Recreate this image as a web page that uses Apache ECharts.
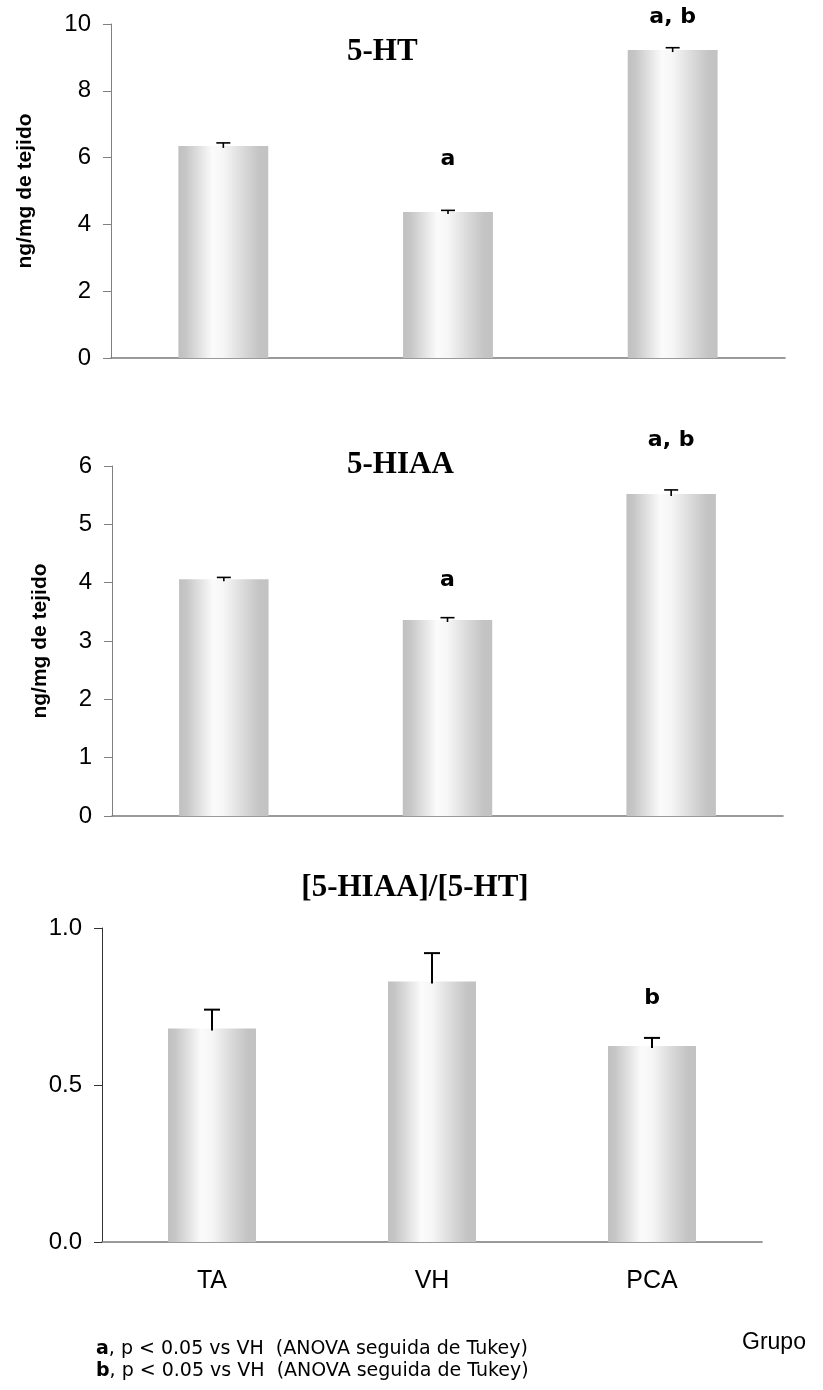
<!DOCTYPE html>
<html>
<head>
<meta charset="utf-8">
<script src="https://cdn.jsdelivr.net/npm/echarts@6/dist/echarts.min.js"></script>
<style>
  html, body { margin: 0; padding: 0; background: #fff; }
  #chart { width: 823px; height: 1390px; }
</style>
</head>
<body>
<div id="chart"></div>
<script>
// Groups on the x axis
const groups = ['TA', 'VH', 'PCA'];

// 5-HT (ng/mg de tejido): mean and upper error
const serotonin = [6.35, 4.37, 9.22];
const serotoninErr = [0.09, 0.05, 0.07];
const serotoninSig = ['', 'a', 'a, b'];

// 5-HIAA (ng/mg de tejido)
const hiaa = [4.06, 3.36, 5.52];
const hiaaErr = [0.03, 0.04, 0.07];
const hiaaSig = ['', 'a', 'a, b'];

// [5-HIAA]/[5-HT] ratio
const ratio = [0.68, 0.83, 0.624];
const ratioErr = [0.06, 0.09, 0.026];
const ratioSig = ['', '', 'b'];

// Axis ranges and tick steps
const serotoninAxis = { min: 0, max: 10, interval: 2 };
const hiaaAxis = { min: 0, max: 6, interval: 1 };
const ratioAxis = { min: 0, max: 1, interval: 0.5 };

const SANS = '"Liberation Sans", Arial, sans-serif';
const SERIF = '"Liberation Serif", "Times New Roman", serif';
const VERD = '"DejaVu Sans", Verdana, sans-serif';

const barFill = {
  type: 'linear', x: 0, y: 0, x2: 1, y2: 0,
  colorStops: [
    { offset: 0, color: '#c0c0c0' },
    { offset: 0.08, color: '#c6c6c6' },
    { offset: 0.38, color: '#fbfbfb' },
    { offset: 0.5, color: '#f6f6f6' },
    { offset: 0.75, color: '#d6d6d6' },
    { offset: 0.9, color: '#c4c4c4' },
    { offset: 1, color: '#c2c2c2' }
  ]
};

// Panel layout: plot boxes and per-label gap above the error cap (px)
const panels = [
  { grid: { left: 111, top: 24, width: 674, height: 334 }, axis: serotoninAxis,
    values: serotonin, errs: serotoninErr, sig: serotoninSig, gaps: [0, 51, 30],
    yName: 'ng/mg de tejido', nameGap: 75, capW: 14, lw: 1.6, yLine: '#808080', dec: 0 },
  { grid: { left: 112, top: 466, width: 671, height: 350 }, axis: hiaaAxis,
    values: hiaa, errs: hiaaErr, sig: hiaaSig, gaps: [0, 37, 50],
    yName: 'ng/mg de tejido', nameGap: 61, capW: 14, lw: 1.6, yLine: '#808080', dec: 0 },
  { grid: { left: 102, top: 928, width: 660, height: 314 }, axis: ratioAxis,
    values: ratio, errs: ratioErr, sig: ratioSig, gaps: [0, 0, 40],
    yName: '', nameGap: 0, capW: 16, lw: 2, yLine: '#333333', dec: 1, showCats: true }
];

function errorRenderer(p) {
  return function (params, api) {
    const i = api.value(0);
    const v = api.value(1);
    const base = api.coord([i, v]);
    const top = api.coord([i, v + p.errs[i]]);
    const stroke = { stroke: '#000', lineWidth: p.lw };
    const children = [
      { type: 'line', shape: { x1: base[0], y1: base[1] + 2, x2: top[0], y2: top[1] }, style: stroke },
      { type: 'line', shape: { x1: top[0] - p.capW / 2, y1: top[1], x2: top[0] + p.capW / 2, y2: top[1] }, style: stroke }
    ];
    if (p.sig[i]) {
      children.push({
        type: 'text', x: top[0], y: top[1] - p.gaps[i],
        style: { text: p.sig[i], fill: '#000', font: 'bold 22px ' + VERD, align: 'center', verticalAlign: 'middle' }
      });
    }
    return { type: 'group', children: children };
  };
}

const grid = [], xAxis = [], yAxis = [], series = [];
panels.forEach(function (p, k) {
  grid.push(p.grid);
  xAxis.push({
    type: 'category', gridIndex: k, data: groups,
    axisLine: { lineStyle: { color: '#7a7a7a', width: 1.6 } },
    axisTick: { show: false },
    axisLabel: { show: !!p.showCats, margin: 27, color: '#000', fontFamily: SANS, fontSize: 25 }
  });
  yAxis.push({
    type: 'value', gridIndex: k, min: p.axis.min, max: p.axis.max, interval: p.axis.interval,
    name: p.yName, nameLocation: 'middle', nameGap: p.nameGap,
    nameTextStyle: { color: '#000', fontFamily: SANS, fontWeight: 'bold', fontSize: 21 },
    axisLine: { show: true, lineStyle: { color: p.yLine, width: 1 } },
    axisTick: { show: true, inside: false, length: 8, lineStyle: { color: p.yLine, width: 1 } },
    splitLine: { show: false },
    axisLabel: {
      margin: 20, color: '#000', fontFamily: SANS, fontSize: 24,
      formatter: function (val) { return val.toFixed(p.dec); }
    }
  });
  series.push({
    type: 'bar', xAxisIndex: k, yAxisIndex: k, data: p.values,
    barWidth: '40%', itemStyle: { color: barFill }, silent: true, z: 2
  });
  series.push({
    type: 'custom', xAxisIndex: k, yAxisIndex: k, z: 3, silent: true,
    data: p.values.map(function (v, i) { return [i, v]; }),
    renderItem: errorRenderer(p)
  });
});

const legendRich = { b: { font: 'bold 19px ' + VERD, fill: '#000' } };

const chart = echarts.init(document.getElementById('chart'), null, { renderer: 'canvas' });
chart.setOption({
  animation: false,
  backgroundColor: '#fff',
  grid: grid, xAxis: xAxis, yAxis: yAxis, series: series,
  graphic: [
    { type: 'text', x: 347, y: 52, style: { text: '5-HT', font: 'bold 31px ' + SERIF, fill: '#000', verticalAlign: 'middle' } },
    { type: 'text', x: 347, y: 465, style: { text: '5-HIAA', font: 'bold 31px ' + SERIF, fill: '#000', verticalAlign: 'middle' } },
    { type: 'text', x: 415, y: 888, style: { text: '[5-HIAA]/[5-HT]', font: 'bold 31px ' + SERIF, fill: '#000', align: 'center', verticalAlign: 'middle' } },
    { type: 'text', x: 742, y: 1343, style: { text: 'Grupo', font: '23px ' + SANS, fill: '#000', verticalAlign: 'middle' } },
    { type: 'text', x: 96, y: 1349, style: {
        text: '{b|a}, p < 0.05 vs VH  (ANOVA seguida de Tukey)',
        font: '19px ' + VERD, fill: '#000', verticalAlign: 'middle', rich: legendRich } },
    { type: 'text', x: 96, y: 1371, style: {
        text: '{b|b}, p < 0.05 vs VH  (ANOVA seguida de Tukey)',
        font: '19px ' + VERD, fill: '#000', verticalAlign: 'middle', rich: legendRich } }
  ]
});
</script>
</body>
</html>
